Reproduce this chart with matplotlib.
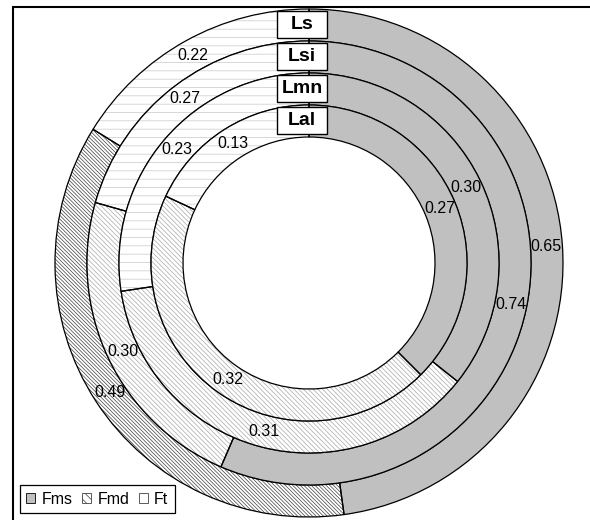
import matplotlib.pyplot as plt
from matplotlib.patches import Patch, Rectangle

# anéis (de fora para dentro) e valores de cada fração
aneis = ['Ls', 'Lsi', 'Lmn', 'Lal']
fms = [0.65, 0.74, 0.30, 0.27]
fmd = [0.49, 0.30, 0.31, 0.32]
ft = [0.22, 0.27, 0.23, 0.13]
series = ['Fms', 'Fmd', 'Ft']

plt.rcParams['font.family'] = ['Liberation Sans', 'DejaVu Sans']
plt.rcParams['hatch.linewidth'] = 0.5

fig = plt.figure(figsize=(5.9, 5.2), dpi=100)
ax = fig.add_axes([0, 0, 1, 1])

R_px = 254.0          # raio externo em pixels
largura = 32 / R_px   # largura de cada anel
cor_hachura_fmd = ['#404040', '#a8a8a8', '#a8a8a8', '#a8a8a8']
hach_fmd = ['\\' * 9, '\\' * 7, '\\' * 7, '\\' * 7]

for i, nome in enumerate(aneis):
    vals = [fms[i], fmd[i], ft[i]]
    total = sum(vals)
    r = 1 - i * largura

    # preenchimento + hachuras
    wedges, _, _ = ax.pie(vals, radius=r, startangle=90, counterclock=False,
                          wedgeprops=dict(width=largura, linewidth=0),
                          autopct=lambda p, t=total: f'{p * t / 100:.2f}',
                          pctdistance=(r - largura / 2) / r,
                          textprops=dict(fontsize=11.5, color='black'))
    wedges[0].set_facecolor('#c0c0c0')
    wedges[0].set_edgecolor('#c0c0c0')
    wedges[1].set_facecolor('white')
    wedges[1].set_hatch(hach_fmd[i])
    wedges[1].set_edgecolor(cor_hachura_fmd[i])
    wedges[2].set_facecolor('white')
    wedges[2].set_hatch('--')
    wedges[2].set_edgecolor('#c8c8c8')

    # contornos pretos
    ax.pie(vals, radius=r, startangle=90, counterclock=False,
           wedgeprops=dict(width=largura, fill=False, edgecolor='black', linewidth=0.9))

    # rótulo do anel
    ym = r - largura / 2
    bw, bh = 50 / R_px, 27 / R_px
    bx = -7 / R_px
    ax.add_patch(Rectangle((bx - bw / 2, ym - bh / 2), bw, bh, facecolor='white',
                           edgecolor='black', linewidth=1.0, zorder=4))
    ax.text(bx, ym, nome, ha='center', va='center', fontsize=14,
            fontweight='bold', zorder=5)

ax.set_xlim(-309 / R_px, 281 / R_px)
ax.set_ylim(-257 / R_px, 263 / R_px)
ax.axis('off')

# legenda
handles = [Patch(facecolor='#c0c0c0', edgecolor='black', linewidth=0.6),
           Patch(facecolor='white', edgecolor='#404040', hatch='\\\\\\\\', linewidth=0.6),
           Patch(facecolor='white', edgecolor='#404040', hatch='-', linewidth=0.6)]
leg = fig.legend(handles, series, loc='lower left', ncol=3,
                 bbox_to_anchor=(20 / 590, 7 / 520), bbox_transform=fig.transFigure,
                 fontsize=11.5, handlelength=0.55, handleheight=0.55,
                 handletextpad=0.4, columnspacing=0.6, borderpad=0.4,
                 borderaxespad=0, fancybox=False, framealpha=1)
leg.get_frame().set_edgecolor('black')
leg.get_frame().set_linewidth(0.9)

# moldura da área do gráfico
fig.add_artist(Rectangle((13 / 590, -0.1), 1.2, 1.1 - 7 / 520, fill=False,
                         edgecolor='black', linewidth=1.5,
                         transform=fig.transFigure, clip_on=False))

fig.savefig('out.png', dpi=100)
